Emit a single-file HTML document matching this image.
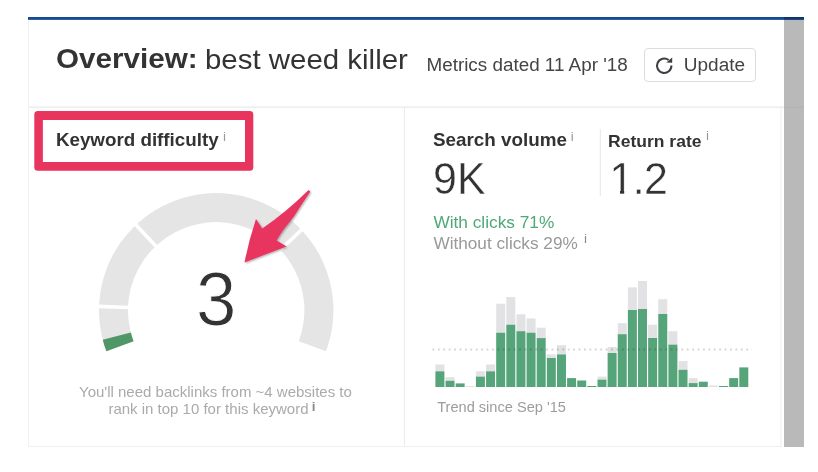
<!DOCTYPE html>
<html>
<head>
<meta charset="utf-8">
<title>Overview</title>
<style>
html,body{margin:0;padding:0;background:#fff;}
body{width:818px;height:472px;position:relative;overflow:hidden;filter:blur(0.4px);font-family:"Liberation Sans",sans-serif;color:#333;}
.abs{position:absolute;white-space:nowrap;line-height:1;}
#topline{left:28px;top:17px;width:756px;height:3px;background:linear-gradient(#164a90 0%,#174c92 62%,#4672ab 100%);}
#topline2{left:784px;top:17px;width:20px;height:3px;background:linear-gradient(#0f3366 0%,#12376b 62%,#3a5580 100%);}
#scroll{left:784px;top:20px;width:20px;height:427px;background:#b9b9b9;}
#scrolltop{left:784px;top:20px;width:20px;height:1px;background:#a9b9cc;}
.t{transform-origin:0 0;}
#title1{left:56px;top:44.4px;font-size:30px;font-weight:bold;color:#333;transform:scale(.987,.94);}
#title2{left:205.1px;top:44.7px;font-size:30px;color:#333;transform:scale(.981,.94);}
#metrics{left:426.5px;top:57.2px;font-size:18.85px;color:#444;transform:scaleY(.95);}
#btn{left:644px;top:48px;width:112px;height:34px;box-sizing:border-box;border:1px solid #dcdcdc;border-radius:4px;background:#fff;}
#btntext{left:683.8px;top:55.7px;font-size:19px;color:#444;transform:scaleY(.95);}
#kd{left:55.9px;top:131.6px;font-size:18.8px;font-weight:bold;color:#333;transform:scaleY(.95);}
.i{font-size:13.5px;color:#999;}
#i1{left:223px;top:129.8px;}
#i2{left:570.8px;top:129.8px;}
#i3{left:706.1px;top:128.8px;}
#i4{left:584px;top:231.5px;color:#888;}
#num{left:195.8px;top:260.5px;font-size:76px;color:#333;transform:scaleX(.955);-webkit-text-stroke:1px #fff;}
#need1{left:79px;top:383.7px;font-size:15px;color:#aaa;}
#need2{left:108.4px;top:401.1px;font-size:15px;color:#aaa;}
#i5{left:311.8px;top:399.9px;font-weight:bold;color:#8c8c8c;}
#sv{left:433px;top:131.6px;font-size:18.85px;font-weight:bold;color:#333;transform:scaleY(.93);}
#svn{left:433px;top:156.8px;font-size:43px;color:#333;transform:scaleY(1.035);-webkit-text-stroke:0.4px #fff;}
#rr{left:608.1px;top:134px;font-size:17.5px;font-weight:bold;color:#333;transform:scaleY(.93);}
#rrn{left:609.6px;top:155.5px;font-size:43px;color:#333;transform:scaleY(1.052);-webkit-text-stroke:0.4px #fff;letter-spacing:-0.7px;}
#wc{left:433.4px;top:215px;font-size:17.28px;color:#4fa877;transform:scaleY(.93);}
#woc{left:433.4px;top:236.1px;font-size:17.22px;color:#999;transform:scaleY(.93);}
#trend{left:437.2px;top:400.3px;font-size:14.6px;color:#9c9c9c;}
svg{position:absolute;left:0;top:0;}
</style>
</head>
<body>
<div class="abs" id="topline"></div>
<div class="abs" id="topline2"></div>
<div class="abs" id="scroll"></div>
<div class="abs" id="scrolltop"></div>

<div class="abs t" id="title1">Overview:</div>
<div class="abs t" id="title2">best weed killer</div>
<div class="abs t" id="metrics">Metrics dated 11 Apr '18</div>
<div class="abs" id="btn"></div>
<div class="abs t" id="btntext">Update</div>

<div class="abs t" id="kd">Keyword difficulty</div>
<div class="abs i" id="i1">i</div>

<div class="abs t" id="num">3</div>
<div class="abs" id="need1">You'll need backlinks from ~4 websites to</div>
<div class="abs" id="need2">rank in top 10 for this keyword</div>
<div class="abs i" id="i5">i</div>

<div class="abs t" id="sv">Search volume</div>
<div class="abs i" id="i2">i</div>
<div class="abs t" id="svn">9K</div>
<div class="abs t" id="rr">Return rate</div>
<div class="abs i" id="i3">i</div>
<div class="abs t" id="rrn">1.2</div>
<div class="abs t" id="wc">With clicks 71%</div>
<div class="abs t" id="woc">Without clicks 29%</div>
<div class="abs i" id="i4">i</div>
<div class="abs" id="trend">Trend since Sep '15</div>

<svg id="gfx" width="818" height="472" viewBox="0 0 818 472">
<path d="M106.42 351.34 A117.20 117.20 0 1 1 325.98 351.34 L298.81 341.19 A88.20 88.20 0 1 0 133.59 341.19 Z" fill="#e5e5e6"/>
<line x1="130.05" y1="307.44" x2="97.07" y2="306.35" stroke="#fff" stroke-width="3.6"/>
<line x1="157.19" y1="247.46" x2="134.60" y2="223.41" stroke="#fff" stroke-width="3.6"/>
<line x1="278.93" y1="251.18" x2="302.95" y2="228.55" stroke="#fff" stroke-width="3.6"/>
<path d="M106.42 351.34 A117.20 117.20 0 0 1 102.73 339.64 L130.81 332.38 A88.20 88.20 0 0 0 133.59 341.19 Z" fill="#509768"/>
<defs><filter id="sh" x="-20%" y="-20%" width="140%" height="140%"><feGaussianBlur in="SourceAlpha" stdDeviation="1.2"/><feOffset dx="0.5" dy="1"/><feComponentTransfer><feFuncA type="linear" slope="0.35"/></feComponentTransfer><feMerge><feMergeNode/><feMergeNode in="SourceGraphic"/></feMerge></filter></defs>
<path filter="url(#sh)" d="M308.0 190.6 Q309.3 189.9 309.9 191.2 Q310.2 192.0 309.6 192.8 L301.0 205.4 L294.0 216.4 Q288 224 283.6 229.4 Q279 236 276.6 240.5 L286.6 246.4 L244.5 262.4 Q249 240 256.0 219.1 L262.3 228.6 Q286.9 211.6 308.0 190.6 Z" fill="#e8365f"/>
<rect x="435.40" y="364.50" width="9.00" height="6.80" fill="#e2e2e4"/>
<rect x="435.40" y="371.30" width="9.00" height="15.70" fill="#56a57a"/>
<rect x="445.53" y="377.20" width="9.00" height="3.60" fill="#e2e2e4"/>
<rect x="445.53" y="380.80" width="9.00" height="6.20" fill="#56a57a"/>
<rect x="455.66" y="383.40" width="9.00" height="3.60" fill="#56a57a"/>
<rect x="465.79" y="386.00" width="9.00" height="1.00" fill="#e2e2e4"/>
<rect x="475.92" y="371.30" width="9.00" height="5.30" fill="#e2e2e4"/>
<rect x="475.92" y="376.60" width="9.00" height="10.40" fill="#56a57a"/>
<rect x="486.05" y="364.50" width="9.00" height="6.80" fill="#e2e2e4"/>
<rect x="486.05" y="371.30" width="9.00" height="15.70" fill="#56a57a"/>
<rect x="496.18" y="303.70" width="9.00" height="29.00" fill="#e2e2e4"/>
<rect x="496.18" y="332.70" width="9.00" height="54.30" fill="#56a57a"/>
<rect x="506.31" y="297.10" width="9.00" height="27.60" fill="#e2e2e4"/>
<rect x="506.31" y="324.70" width="9.00" height="62.30" fill="#56a57a"/>
<rect x="516.44" y="314.30" width="9.00" height="16.90" fill="#e2e2e4"/>
<rect x="516.44" y="331.20" width="9.00" height="55.80" fill="#56a57a"/>
<rect x="526.57" y="318.50" width="9.00" height="14.20" fill="#e2e2e4"/>
<rect x="526.57" y="332.70" width="9.00" height="54.30" fill="#56a57a"/>
<rect x="536.70" y="327.70" width="9.00" height="10.40" fill="#e2e2e4"/>
<rect x="536.70" y="338.10" width="9.00" height="48.90" fill="#56a57a"/>
<rect x="546.83" y="354.40" width="9.00" height="3.60" fill="#e2e2e4"/>
<rect x="546.83" y="358.00" width="9.00" height="29.00" fill="#56a57a"/>
<rect x="556.96" y="345.20" width="9.00" height="9.20" fill="#e2e2e4"/>
<rect x="556.96" y="354.40" width="9.00" height="32.60" fill="#56a57a"/>
<rect x="567.09" y="378.10" width="9.00" height="8.90" fill="#56a57a"/>
<rect x="577.22" y="380.50" width="9.00" height="6.50" fill="#56a57a"/>
<rect x="587.35" y="386.00" width="9.00" height="1.00" fill="#56a57a"/>
<rect x="597.48" y="376.60" width="9.00" height="3.00" fill="#e2e2e4"/>
<rect x="597.48" y="379.60" width="9.00" height="7.40" fill="#56a57a"/>
<rect x="607.61" y="347.00" width="9.00" height="6.00" fill="#e2e2e4"/>
<rect x="607.61" y="353.00" width="9.00" height="34.00" fill="#56a57a"/>
<rect x="617.74" y="323.20" width="9.00" height="11.00" fill="#e2e2e4"/>
<rect x="617.74" y="334.20" width="9.00" height="52.80" fill="#56a57a"/>
<rect x="627.87" y="287.40" width="9.00" height="22.60" fill="#e2e2e4"/>
<rect x="627.87" y="310.00" width="9.00" height="77.00" fill="#56a57a"/>
<rect x="638.00" y="281.00" width="9.00" height="28.00" fill="#e2e2e4"/>
<rect x="638.00" y="309.00" width="9.00" height="78.00" fill="#56a57a"/>
<rect x="648.13" y="324.70" width="9.00" height="13.30" fill="#e2e2e4"/>
<rect x="648.13" y="338.00" width="9.00" height="49.00" fill="#56a57a"/>
<rect x="658.26" y="299.20" width="9.00" height="14.80" fill="#e2e2e4"/>
<rect x="658.26" y="314.00" width="9.00" height="73.00" fill="#56a57a"/>
<rect x="668.39" y="331.20" width="9.00" height="13.40" fill="#e2e2e4"/>
<rect x="668.39" y="344.60" width="9.00" height="42.40" fill="#56a57a"/>
<rect x="678.52" y="361.00" width="9.00" height="8.80" fill="#e2e2e4"/>
<rect x="678.52" y="369.80" width="9.00" height="17.20" fill="#56a57a"/>
<rect x="688.65" y="378.10" width="9.00" height="5.00" fill="#e2e2e4"/>
<rect x="688.65" y="383.10" width="9.00" height="3.90" fill="#56a57a"/>
<rect x="698.78" y="381.70" width="9.00" height="5.30" fill="#56a57a"/>
<rect x="708.91" y="385.50" width="9.00" height="1.50" fill="#e2e2e4"/>
<rect x="719.04" y="386.00" width="9.00" height="1.00" fill="#56a57a"/>
<rect x="729.17" y="378.10" width="9.00" height="8.90" fill="#56a57a"/>
<rect x="739.30" y="367.40" width="9.00" height="19.60" fill="#56a57a"/>
<line x1="432.5" y1="349.5" x2="752" y2="349.5" stroke="#000" stroke-opacity="0.17" stroke-width="1.8" stroke-dasharray="1.8 3.61"/>
<path d="M671.40 65.45 A7.20 7.20 0 1 1 668.63 60.03" fill="none" stroke="#3d3d42" stroke-width="2"/><path d="M672.2 57.4 L672.2 62.8 L666.4 62.6 Z" fill="#3d3d42"/>
<rect x="28" y="20" width="1" height="427" fill="#f1f1f2"/>
<rect x="28" y="446" width="754" height="1" fill="#f0f0f1"/>
<rect x="780.5" y="107" width="1" height="340" fill="#eeeeef"/>
<rect x="29" y="106.6" width="755" height="1" fill="#e4e4e9"/><line x1="784" y1="107.3" x2="804" y2="107.3" stroke="#a9a9a9" stroke-width="1" stroke-dasharray="1 1"/>
<rect x="403.9" y="107" width="1" height="339" fill="#e9e9ed"/>
<rect x="599.8" y="129" width="1" height="67" fill="#e6e6e9"/>
<path fill-rule="evenodd" fill="#e8355e" d="M37.8 110.9 H249.8 Q253.3 110.9 253.3 114.4 V167.2 Q253.3 170.7 249.8 170.7 H37.8 Q34.3 170.7 34.3 167.2 V114.4 Q34.3 110.9 37.8 110.9 Z M42.9 119.9 V162.1 H245 V119.9 Z"/>
<rect x="611" y="190" width="9" height="5" fill="#fff"/><rect x="624.2" y="190" width="8" height="5" fill="#fff"/>
</svg>
</body>
</html>
